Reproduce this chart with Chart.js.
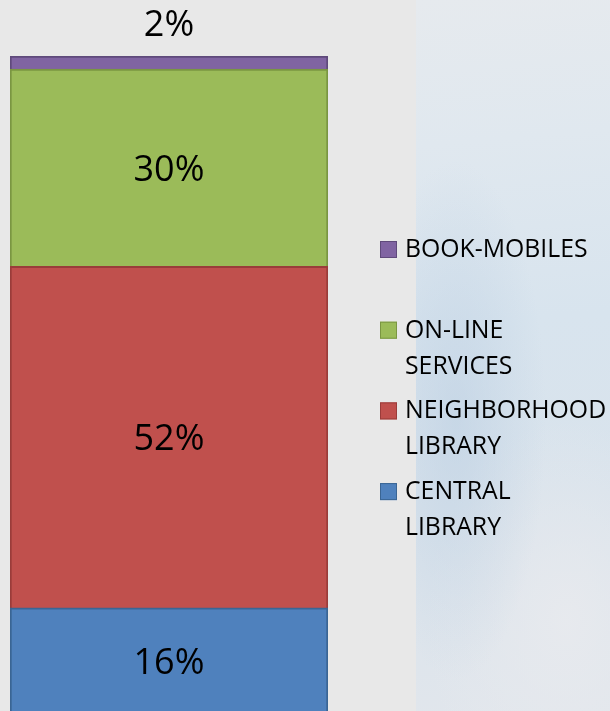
<!DOCTYPE html>
<html>
<head>
<meta charset="utf-8">
<script src="https://cdn.jsdelivr.net/npm/chart.js@4"></script>
<style>
  html, body { margin: 0; padding: 0; width: 610px; height: 711px; overflow: hidden; background: #e8e8e8; }
  #bgimg { position: absolute; left: 416px; top: 0; width: 194px; height: 711px;
    background:
      radial-gradient(ellipse 90px 260px at 40px 420px, rgba(185,205,225,0.55), rgba(185,205,225,0) 100%),
      radial-gradient(ellipse 140px 200px at 150px 620px, rgba(232,234,238,0.9), rgba(232,234,238,0) 100%),
      linear-gradient(175deg, #e6eaee 0%, #e0e8ef 20%, #d8e4ee 45%, #d9e3ec 70%, #e1e6ec 100%); }
  #wrap { position: absolute; left: 0; top: 0; width: 610px; height: 720px; }
</style>
</head>
<body>
<div id="bgimg"></div>
<div id="wrap"><canvas id="c"></canvas></div>
<script>
const categories = ['Usage'];
const seriesNames = ['CENTRAL\nLIBRARY', 'NEIGHBORHOOD\nLIBRARY', 'ON-LINE\nSERVICES', 'BOOK-MOBILES'];
const centralValues = [16];
const neighborhoodValues = [52];
const onlineValues = [30];
const bookmobileValues = [2];
const seriesColors = ['#4F81BD', '#C0504D', '#9BBB59', '#8064A2'];
const seriesBorders = ['#3A6594', '#9A3C3A', '#7A9642', '#5F4A7B'];
const yTicks = [0, 100];

const seriesValues = [centralValues, neighborhoodValues, onlineValues, bookmobileValues];

const labelPlugin = {
  id: 'labels',
  afterDatasetsDraw(chart) {
    const ctx = chart.ctx;
    ctx.save();
    ctx.font = '36px "Open Sans"';
    ctx.fillStyle = '#000';
    ctx.textAlign = 'center';
    ctx.textBaseline = 'middle';
    chart.data.datasets.forEach((ds, i) => {
      const meta = chart.getDatasetMeta(i);
      meta.data.forEach((bar, j) => {
        const v = ds.data[j];
        const top = Math.min(bar.y, bar.base), bot = Math.max(bar.y, bar.base);
        let y = (top + bot) / 2 + 3;
        if (bot - top < 40) y = top - 30;
        ctx.fillText(v + '%', bar.x, y);
      });
    });
    ctx.restore();
  }
};

const legendPlugin = {
  id: 'customLegend',
  afterDraw(chart) {
    const ctx = chart.ctx;
    ctx.save();
    ctx.font = '24.8px "Open Sans"';
    ctx.textBaseline = 'middle';
    const n = chart.data.datasets.length;
    const boxX = 380, textX = 405, startY = 249, itemGap = 80.7, lineGap = 36;
    for (let k = 0; k < n; k++) {
      const ds = chart.data.datasets[n - 1 - k];
      const cy = startY + k * itemGap;
      ctx.fillStyle = ds.backgroundColor;
      ctx.fillRect(boxX, cy - 8, 17, 17);
      ctx.strokeStyle = ds.borderColor;
      ctx.lineWidth = 1;
      ctx.strokeRect(boxX + 0.5, cy - 7.5, 16, 16);
      ctx.fillStyle = '#000';
      ds.label.split('\n').forEach((line, li) => {
        ctx.fillText(line, textX, cy + li * lineGap + 1);
      });
    }
    ctx.restore();
  }
};

new Chart(document.getElementById('c'), {
  type: 'bar',
  data: {
    labels: categories,
    datasets: seriesNames.map((name, i) => ({
      label: name,
      data: seriesValues[i],
      backgroundColor: seriesColors[i],
      borderColor: seriesBorders[i],
      borderWidth: 2,
      barPercentage: 1,
      categoryPercentage: 1
    }))
  },
  options: {
    responsive: true,
    maintainAspectRatio: false,
    animation: false,
    layout: { padding: { left: 10, right: 282, top: 56, bottom: 7 } },
    plugins: { legend: { display: false }, tooltip: { enabled: false } },
    scales: {
      x: { stacked: true, display: false },
      y: { stacked: true, display: false, min: yTicks[0], max: yTicks[1] }
    }
  },
  plugins: [labelPlugin, legendPlugin]
});
</script>
</body>
</html>
